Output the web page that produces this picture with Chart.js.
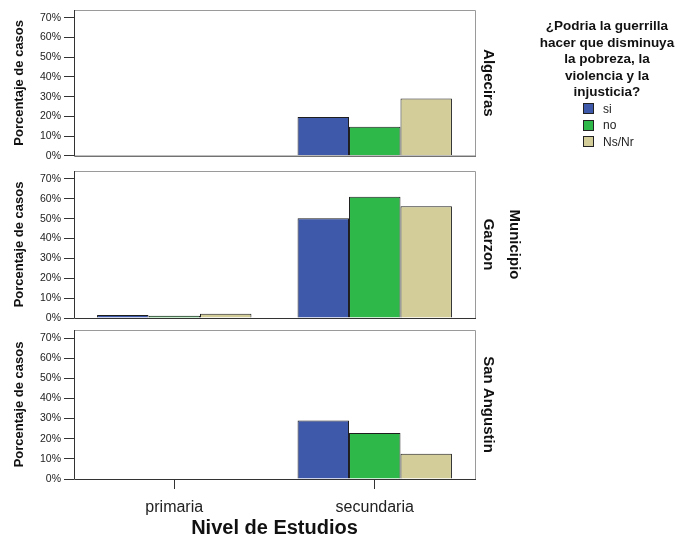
<!DOCTYPE html>
<html>
<head>
<meta charset="utf-8">
<script src="https://cdn.jsdelivr.net/npm/chart.js@4"></script>
<style>
  body { margin: 0; background: #fff; font-family: "Liberation Sans", Arial, sans-serif; }
  #wrap { position: relative; width: 688px; height: 548px; overflow: hidden; }
  .panel { position: absolute; left: 0; width: 540px; }
  #legend { position: absolute; left: 522px; top: 18px; width: 170px; text-align: center; }
  #legend .title { font-weight: bold; font-size: 13.5px; line-height: 16.5px; color: #111; }
  .legend-item { display: flex; align-items: center; margin-left: 61px; height: 16.5px; font-size: 12px; color: #222; }
  .legend-color { width: 9px; height: 9px; border: 1px solid #222; margin-right: 9px; }
</style>
</head>
<body>
<div id="wrap">
  <div class="panel" style="top:0;height:165px"><canvas id="p0"></canvas></div>
  <div class="panel" style="top:160px;height:168px"><canvas id="p1"></canvas></div>
  <div class="panel" style="top:320px;height:228px"><canvas id="p2"></canvas></div>
  <div id="legend"></div>
</div>
<script>
// data (percent of cases)
var niveles = ['primaria', 'secundaria'];
var municipios = [['Algeciras'], ['Municipio', 'Garzon'], ['San Angustin']];
var respuestas = ['si', 'no', 'Ns/Nr'];
var siValores = [[0, 19.6], [1.5, 50.2], [0, 29.0]];
var noValores = [[0, 14.7], [1.1, 61.0], [0.3, 22.9]];
var nsnrValores = [[0, 29.1], [2.2, 56.3], [0, 12.5]];
var yTicks = [0, 10, 20, 30, 40, 50, 60, 70];

var colores = ['rgb(62, 88, 170)', 'rgb(46, 184, 74)', 'rgb(211, 206, 153)'];
var series = [siValores, noValores, nsnrValores];

// frame round the plot plus the municipio label on the right
var framePlugin = {
    id: 'frame',
    afterDraw: function (chart, args, opts) {
        var a = chart.chartArea, c = chart.ctx;
        c.save();
        c.lineWidth = 1;
        c.strokeStyle = '#9a9a9a';
        c.beginPath();
        c.moveTo(a.left + 0.5, a.top + 0.5);
        c.lineTo(a.right + 0.5, a.top + 0.5);
        c.lineTo(a.right + 0.5, a.bottom);
        c.stroke();
        c.strokeStyle = '#333';
        c.beginPath();
        c.moveTo(a.left + 0.5, a.top);
        c.lineTo(a.left + 0.5, a.bottom + 0.5);
        c.lineTo(a.right + 1, a.bottom + 0.5);
        c.stroke();

        var lines = opts.lines;
        c.translate(a.right + 13, (a.top + a.bottom) / 2);
        c.rotate(Math.PI / 2);
        c.font = 'bold 15px "Liberation Sans", Arial, sans-serif';
        c.fillStyle = '#111';
        c.textAlign = 'center';
        c.textBaseline = 'middle';
        lines.forEach(function (t, i) {
            c.fillText(t, 0, -(lines.length - 1 - i) * 26);
        });
        c.restore();
    }
};

var pads = [
    { top: 10, bottom: 9 },
    { top: 11, bottom: 10 },
    { top: 10, bottom: 4 }
];

municipios.forEach(function (lines, m) {
    var ultimo = m === municipios.length - 1;
    var ctx = document.getElementById('p' + m).getContext('2d');
    new Chart(ctx, {
        type: 'bar',
        data: {
            labels: niveles,
            datasets: respuestas.map(function (r, k) {
                return {
                    label: r,
                    data: series[k][m],
                    backgroundColor: colores[k],
                    borderColor: '#1e1e1e',
                    borderWidth: 1,
                    categoryPercentage: 0.77,
                    barPercentage: 1
                };
            })
        },
        options: {
            animation: false,
            responsive: true,
            maintainAspectRatio: false,
            layout: { padding: { left: 0, right: 65, top: pads[m].top, bottom: pads[m].bottom } },
            plugins: {
                legend: { display: false },
                tooltip: { enabled: false },
                frame: { lines: lines }
            },
            scales: {
                x: {
                    display: ultimo,
                    grid: { display: true, drawOnChartArea: false, offset: false, tickLength: 10, color: '#333' },
                    border: { display: false },
                    ticks: { color: '#222', padding: 9, font: { family: '"Liberation Sans", Arial, sans-serif', size: 16 } },
                    title: {
                        display: true,
                        text: 'Nivel de Estudios',
                        color: '#111',
                        padding: { top: 0, bottom: 4 },
                        font: { family: '"Liberation Sans", Arial, sans-serif', size: 20, weight: 'bold' }
                    },
                    afterFit: function (s) { if (ultimo) s.height = 65; }
                },
                y: {
                    min: 0,
                    max: 74,
                    afterBuildTicks: function (s) {
                        s.ticks = yTicks.map(function (v) { return { value: v }; });
                    },
                    afterFit: function (s) { s.width = 74; },
                    grid: { display: true, drawOnChartArea: false, tickLength: 10, color: '#333' },
                    border: { display: false },
                    ticks: {
                        color: '#222',
                        padding: 3,
                        autoSkip: false,
                        font: { family: '"Liberation Sans", Arial, sans-serif', size: 10.5 },
                        callback: function (v) { return v + '%'; }
                    },
                    title: {
                        display: true,
                        text: 'Porcentaje de casos',
                        color: '#111',
                        padding: { top: 12, bottom: 0 },
                        font: { family: '"Liberation Sans", Arial, sans-serif', size: 13, weight: 'bold' }
                    }
                }
            }
        },
        plugins: [framePlugin]
    });
});

function updateLegend() {
    var legend = document.getElementById('legend');
    legend.innerHTML = '';
    var title = document.createElement('div');
    title.classList.add('title');
    title.innerHTML = '¿Podria la guerrilla<br>hacer que disminuya<br>la pobreza, la<br>violencia y la<br>injusticia?';
    legend.appendChild(title);

    respuestas.forEach(function (label, index) {
        var legendItem = document.createElement('div');
        legendItem.classList.add('legend-item');
        var legendColor = document.createElement('div');
        legendColor.classList.add('legend-color');
        legendColor.style.backgroundColor = colores[index];
        var legendText = document.createElement('div');
        legendText.innerText = label;
        legendItem.appendChild(legendColor);
        legendItem.appendChild(legendText);
        legend.appendChild(legendItem);
    });
}

updateLegend();
</script>
</body>
</html>
